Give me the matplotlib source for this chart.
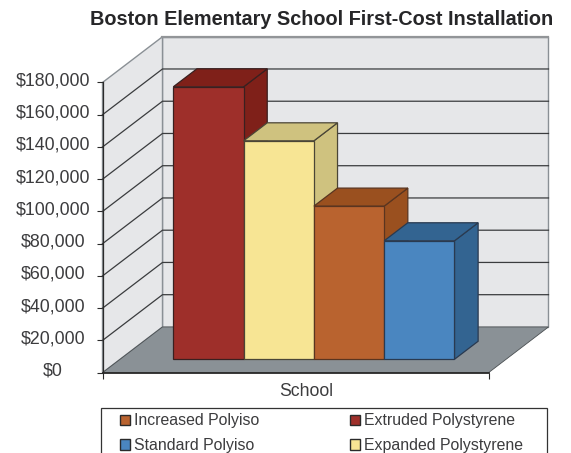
import matplotlib
matplotlib.use('Agg')

import matplotlib.pyplot as plt
from matplotlib.patches import Polygon, Rectangle
from matplotlib.transforms import ScaledTranslation

plt.rcParams['font.family'] = ['Liberation Sans', 'DejaVu Sans']

W, H = 571, 453
DPI = 100

materials = ['Extruded Polystyrene', 'Expanded Polystyrene', 'Increased Polyiso', 'Standard Polyiso']
costs = [169000, 135500, 95000, 73500]
front_colors = ['#9E2F2A', '#F7E594', '#B9632F', '#4A86C0']
side_colors = ['#7F2019', '#CFC27F', '#9A501F', '#336491']
edge_colors = ['#3A2020', '#4A4536', '#5A3520', '#2A3A50']
tick_values = list(range(0, 200000, 20000))
tick_labels = ['$' + format(v, ',') for v in tick_values]
legend_order = [2, 3, 0, 1]

# 3d look is just a shear: depth 1 = back wall
DEPTH_X = 60 / 70.3
DEPTH_Y = 45.7 / 32.2 * 20000
BAR_NEAR = 0.293
BAR_FAR = 0.687
XMIN = -0.757
XMAX = 4.734
YTOP = 180000


def proj(x, v, d):
    return (x + d * DEPTH_X, v + d * DEPTH_Y)


def px_x(x):
    return x / W


def px_y(y):
    return 1 - y / H


fig = plt.figure(figsize=(W / DPI, H / DPI), dpi=DPI, facecolor='white')
ax = fig.add_axes([px_x(102.5), px_y(372.7), (488.5 - 102.5) / W, (372.7 - 82.5) / H])
ax.set_xlim(XMIN, XMAX)
ax.set_ylim(0, YTOP)
ax.patch.set_visible(False)

wall = '#E6E7E9'
wall_edge = '#8A9095'
ax.add_patch(Polygon([proj(XMIN, 0, 1), proj(XMAX, 0, 1), proj(XMAX, YTOP, 1), proj(XMIN, YTOP, 1)],
                     fc=wall, ec=wall_edge, lw=1.0, clip_on=False, zorder=1))
ax.add_patch(Polygon([proj(XMIN, 0, 0), proj(XMIN, 0, 1), proj(XMIN, YTOP, 1), proj(XMIN, YTOP, 0)],
                     fc=wall, ec=wall_edge, lw=1.0, clip_on=False, zorder=1))
ax.add_patch(Polygon([proj(XMIN, 0, 0), proj(XMAX, 0, 0), proj(XMAX, 0, 1), proj(XMIN, 0, 1)],
                     fc='#8A9196', ec='#4A4F52', lw=0.6, clip_on=False, zorder=1))

for v in tick_values[1:-1]:
    a = proj(XMIN, v, 0)
    b = proj(XMIN, v, 1)
    c = proj(XMAX, v, 1)
    ax.plot([a[0], b[0], c[0]], [a[1], b[1], c[1]], color='#3A3C3E', lw=0.9,
            solid_joinstyle='miter', clip_on=False, zorder=2)

a = proj(XMIN, YTOP, 1)
b = proj(XMAX, YTOP, 1)
ax.plot([a[0], b[0]], [a[1], b[1]], color='#929598', lw=1.6, clip_on=False, zorder=2)

for i in range(len(costs)):
    h = costs[i]
    front = [proj(i, 0, BAR_NEAR), proj(i + 1, 0, BAR_NEAR), proj(i + 1, h, BAR_NEAR), proj(i, h, BAR_NEAR)]
    side = [proj(i + 1, 0, BAR_NEAR), proj(i + 1, 0, BAR_FAR), proj(i + 1, h, BAR_FAR), proj(i + 1, h, BAR_NEAR)]
    top = [proj(i, h, BAR_NEAR), proj(i + 1, h, BAR_NEAR), proj(i + 1, h, BAR_FAR), proj(i, h, BAR_FAR)]
    z = 3 + i
    ax.add_patch(Polygon(side, fc=side_colors[i], ec=edge_colors[i], lw=0.9, clip_on=False, zorder=z))
    ax.add_patch(Polygon(top, fc=side_colors[i], ec=edge_colors[i], lw=0.9, clip_on=False, zorder=z))
    ax.add_patch(Polygon(front, fc=front_colors[i], ec=edge_colors[i], lw=0.9, clip_on=False, zorder=z))

for s in ['top', 'right']:
    ax.spines[s].set_visible(False)
ax.spines['left'].set_color('#2A2A2A')
ax.spines['left'].set_linewidth(0.9)
ax.spines['left'].set_zorder(10)
ax.spines['bottom'].set_color('#2A2A2A')
ax.spines['bottom'].set_linewidth(1.3)
ax.spines['bottom'].set_zorder(10)

ax.set_yticks(tick_values)
ax.set_yticklabels(tick_labels)
ax.tick_params(axis='y', length=4.3, width=0.8, color='#2A2A2A', pad=31.3,
               labelsize=12.8, labelcolor='#3C3C3E')
up = ScaledTranslation(0, 3.5 / DPI, fig.dpi_scale_trans)
for label in ax.get_yticklabels():
    label.set_ha('center')
    label.set_transform(label.get_transform() + up)

ax.set_xticks([XMIN, XMAX])
ax.set_xticklabels([])
ax.tick_params(axis='x', length=4.3, width=0.8, color='#2A2A2A')

fig.text(px_x(306), px_y(391), 'School', ha='center', va='center', fontsize=12.7, color='#3C3C3E')
fig.text(px_x(322), px_y(19.5), 'Boston Elementary School First-Cost Installation', ha='center', va='center',
         fontsize=14.35, fontweight='bold', color='#262628')

# legend frame runs off the bottom of the picture
fig.add_artist(Rectangle((px_x(101), px_y(470)), 446 / W, (470 - 407.7) / H, transform=fig.transFigure,
                         fc='white', ec='#333333', lw=0.9, clip_on=True))

handles = [Rectangle((0, 0), 1, 1, fc=front_colors[i], ec='#2A2A2A', lw=1.0) for i in legend_order]
labels = [materials[i] for i in legend_order]
leg = fig.legend(handles, labels, ncol=2, loc='upper left', bbox_to_anchor=(px_x(120), px_y(413.5)),
                 frameon=False, fontsize=11.4, borderpad=0, borderaxespad=0,
                 handlelength=0.63, handleheight=0.63, handletextpad=0.26,
                 columnspacing=5.75, labelspacing=0.6, labelcolor='#3C3C3E')

fig.savefig('out.png', dpi=DPI)
